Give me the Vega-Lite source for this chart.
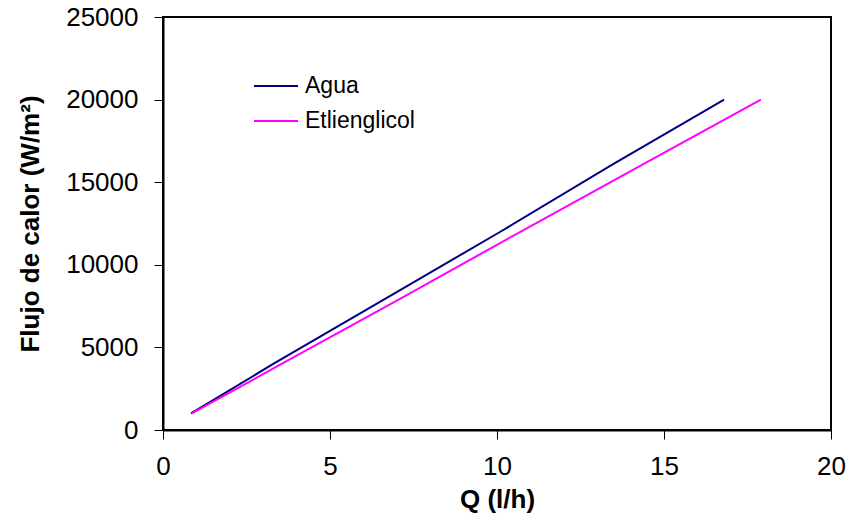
{
  "$schema": "https://vega.github.io/schema/vega-lite/v6.json",
  "width": 668,
  "height": 413,
  "autosize": "none",
  "padding": {"left": 163, "top": 17, "right": 18, "bottom": 99},
  "background": "white",
  "config": {
    "font": "Liberation Sans",
    "view": {"stroke": "black", "strokeWidth": 2},
    "axis": {
      "grid": false,
      "domainColor": "black",
      "domainWidth": 2,
      "tickColor": "black",
      "tickWidth": 1,
      "tickSize": 9,
      "labelFont": "Liberation Sans",
      "labelFontSize": 26,
      "labelColor": "black",
      "titleFont": "Liberation Sans",
      "titleFontSize": 26,
      "titleFontWeight": "bold",
      "titleColor": "black"
    },
    "legend": {
      "orient": "none",
      "legendX": 90,
      "legendY": 46,
      "padding": 0,
      "title": null,
      "symbolType": "stroke",
      "symbolSize": 1936,
      "symbolStrokeWidth": 2,
      "labelFont": "Liberation Sans",
      "labelFontSize": 23,
      "labelColor": "black",
      "labelOffset": 6,
      "rowPadding": -6
    }
  },
  "data": {
    "values": [
      {"Q": 0.84, "flujo": 1000, "fluido": "Agua"},
      {"Q": 3.3, "flujo": 4000, "fluido": "Agua"},
      {"Q": 6.7, "flujo": 8000, "fluido": "Agua"},
      {"Q": 10.1, "flujo": 12000, "fluido": "Agua"},
      {"Q": 13.4, "flujo": 16000, "fluido": "Agua"},
      {"Q": 16.8, "flujo": 20000, "fluido": "Agua"},
      {"Q": 0.86, "flujo": 1000, "fluido": "Etlienglicol"},
      {"Q": 3.55, "flujo": 4000, "fluido": "Etlienglicol"},
      {"Q": 7.15, "flujo": 8000, "fluido": "Etlienglicol"},
      {"Q": 10.7, "flujo": 12000, "fluido": "Etlienglicol"},
      {"Q": 14.3, "flujo": 16000, "fluido": "Etlienglicol"},
      {"Q": 17.9, "flujo": 20000, "fluido": "Etlienglicol"}
    ]
  },
  "mark": {"type": "line", "strokeWidth": 2},
  "encoding": {
    "x": {
      "field": "Q",
      "type": "quantitative",
      "scale": {"domain": [0, 20], "nice": false, "zero": false},
      "axis": {"values": [0, 5, 10, 15, 20], "format": "d", "title": "Q (l/h)", "labelPadding": 14, "titlePadding": 7, "labelFlush": false}
    },
    "y": {
      "field": "flujo",
      "type": "quantitative",
      "scale": {"domain": [0, 25000], "nice": false},
      "axis": {"values": [0, 5000, 10000, 15000, 20000, 25000], "format": "d", "title": "Flujo de calor (W/m²)", "labelPadding": 16, "titlePadding": 22, "labelFlush": false}
    },
    "color": {
      "field": "fluido",
      "type": "nominal",
      "scale": {"domain": ["Agua", "Etlienglicol"], "range": ["#000080", "#FF00FF"]}
    }
  }
}
